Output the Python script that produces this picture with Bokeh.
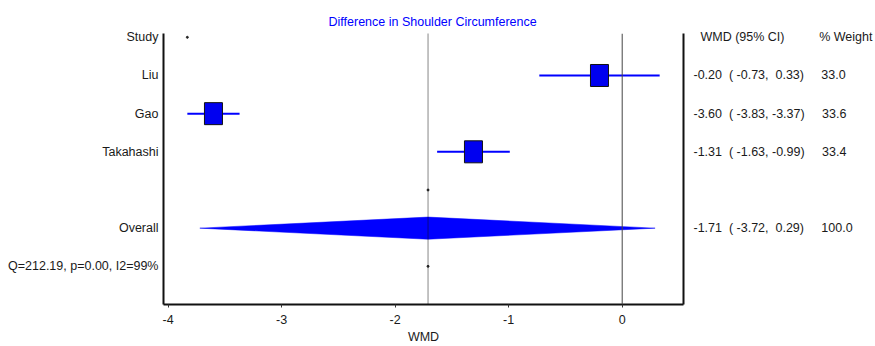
from bokeh.plotting import figure
from bokeh.models import Range1d, FixedTicker, LinearAxis, Span, ColumnDataSource
from bokeh.embed import file_html
from bokeh.resources import INLINE

# ---------------- data ----------------
title_text = "Difference in Shoulder Circumference"
studies = ["Liu", "Gao", "Takahashi"]
wmd = [-0.20, -3.60, -1.31]
ci_low = [-0.73, -3.83, -1.63]
ci_high = [0.33, -3.37, -0.99]
weights = [33.0, 33.6, 33.4]
overall_label = "Overall"
overall_wmd = -1.71
overall_low = -3.72
overall_high = 0.29
overall_weight = 100.0
heterogeneity = "Q=212.19, p=0.00, I2=99%"
x_ticks = [-4, -3, -2, -1, 0]
x_label = "WMD"
col_headers = ["Study", "WMD (95% CI)", "% Weight"]

# ---------------- layout ----------------
FONT = "Liberation Sans"
FS = "12.5px"
TXT = "#1a1a1a"
BLUE = "#0000ff"
NB = "\u00a0"

X0, X1 = -4.04, 0.54
Y_BOTTOM, Y_TOP = 7.0, -0.1
W, H = 875, 346
ML, MR, MT, MB = 163, 189, 33, 41

study_rows = [1, 2, 3]
blank_row = 4
overall_row = 5
het_row = 6

p = figure(width=W, height=H, output_backend="svg", toolbar_location=None,
           x_range=Range1d(X0, X1), y_range=Range1d(Y_BOTTOM, Y_TOP),
           min_border_left=ML, min_border_right=MR, min_border_top=MT,
           min_border_bottom=MB, background_fill_color="white",
           border_fill_color="white", title=title_text)
p.outline_line_color = None
p.grid.visible = False

p.title.align = "left"
p.title.offset = 165
p.title.text_font = FONT
p.title.text_font_size = FS
p.title.text_font_style = "normal"
p.title.text_color = BLUE
p.title.standoff = 10

# bottom axis
xa = p.xaxis[0]
xa.ticker = FixedTicker(ticks=x_ticks)
xa.major_label_overrides = {t: f"{t:d}" for t in x_ticks}
xa.minor_tick_line_color = None
xa.major_tick_in = 0
xa.major_tick_out = 3
xa.major_tick_line_color = "#333333"
xa.axis_line_width = 2
xa.axis_line_color = "#111111"
xa.major_label_standoff = 7
xa.major_label_text_font = FONT
xa.major_label_text_font_size = FS
xa.major_label_text_color = TXT
xa.axis_label = x_label
xa.axis_label_standoff = 3
xa.axis_label_text_font = FONT
xa.axis_label_text_font_size = FS
xa.axis_label_text_font_style = "normal"
xa.axis_label_text_color = TXT

# left axis: study names
left_names = [col_headers[0]] + studies + [overall_label, heterogeneity]
left_rows = [0] + study_rows + [overall_row, het_row]
ya = p.yaxis[0]
ya.ticker = FixedTicker(ticks=left_rows)
ya.major_label_overrides = {r: t for r, t in zip(left_rows, left_names)}
ya.axis_line_width = 2
ya.axis_line_color = "#111111"
ya.major_tick_line_color = None
ya.minor_tick_line_color = None
ya.major_tick_out = 0
ya.major_tick_in = 0
ya.major_label_standoff = 5
ya.major_label_text_font = FONT
ya.major_label_text_font_size = FS
ya.major_label_text_color = TXT

# right axis: estimates, CIs and weights
all_wmd = wmd + [overall_wmd]
all_lo = ci_low + [overall_low]
all_hi = ci_high + [overall_high]
all_w = weights + [overall_weight]
right_rows = study_rows + [overall_row]
right_txt = [(f"{v:.2f}  ( {lo:5.2f}, {hi:5.2f})     {w:.1f}").replace(" ", NB)
             for v, lo, hi, w in zip(all_wmd, all_lo, all_hi, all_w)]
header_txt = ("  " + col_headers[1] + " " * 10 + col_headers[2]).replace(" ", NB)
ra = LinearAxis(ticker=FixedTicker(ticks=[0] + right_rows))
ra.major_label_overrides = dict(zip([0] + right_rows, [header_txt] + right_txt))
ra.axis_line_width = 2
ra.axis_line_color = "#111111"
ra.major_tick_line_color = None
ra.minor_tick_line_color = None
ra.major_tick_out = 0
ra.major_tick_in = 0
ra.major_label_standoff = 10
ra.major_label_text_font = FONT
ra.major_label_text_font_size = FS
ra.major_label_text_color = TXT
p.add_layout(ra, "right")

# reference lines
p.add_layout(Span(location=0, dimension="height", line_color="#444444",
                  line_width=1))
p.add_layout(Span(location=overall_wmd, dimension="height", line_color="#111111",
                  line_width=1, line_dash="1 1"))
p.scatter(x=[overall_wmd, overall_wmd], y=[blank_row, het_row], size=2,
          color="#222222")
p.scatter(x=[ci_low[1]], y=[0], size=2, color="#222222")

# study CIs and squares
src = ColumnDataSource(dict(y=study_rows, wmd=wmd, lo=ci_low, hi=ci_high))
p.segment(x0="lo", x1="hi", y0="y", y1="y", source=src, line_color=BLUE,
          line_width=2)
p.rect(x="wmd", y="y", width=18, height=22, width_units="screen",
       height_units="screen", source=src, fill_color="#0000f0",
       line_color="#111111", line_width=1)

# overall diamond
half_h = 0.29
p.patch(x=[overall_low, overall_wmd, overall_high, overall_wmd],
        y=[overall_row, overall_row - half_h, overall_row, overall_row + half_h],
        fill_color=BLUE, line_color=BLUE, line_width=0.5)

open("out.html", "w").write(file_html(p, INLINE))
